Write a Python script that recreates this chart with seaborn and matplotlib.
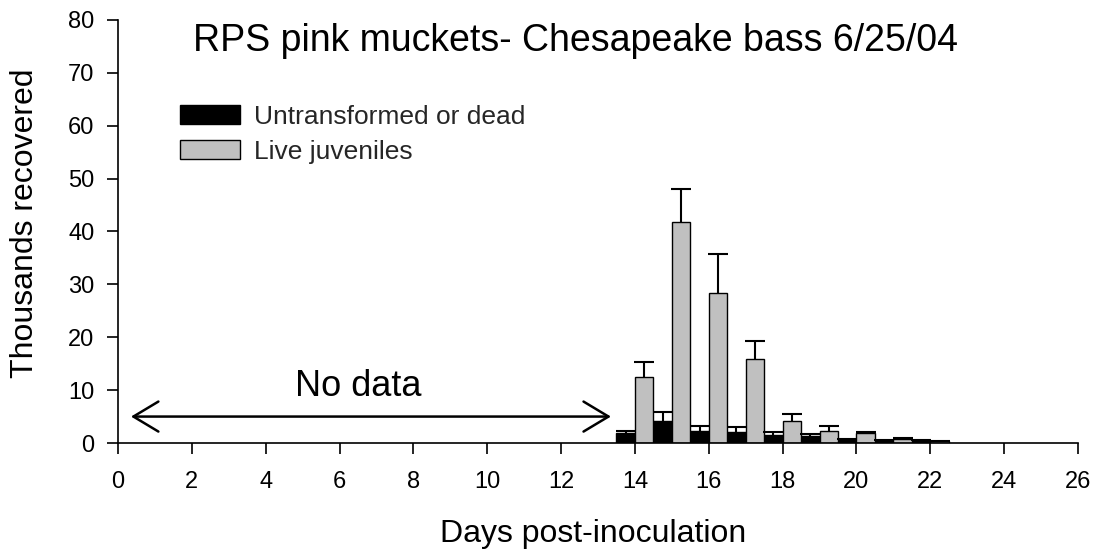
import numpy as np
import pandas as pd
import seaborn as sns
import matplotlib
matplotlib.use("Agg")
import matplotlib.pyplot as plt
from matplotlib.patches import Patch

days = [14, 15, 16, 17, 18, 19, 20, 21, 22]
dead = [1.8, 4.2, 2.3, 2.1, 1.6, 1.4, 0.6, 0.4, 0.4]
dead_err = [0.4, 1.6, 0.9, 0.9, 0.5, 0.3, 0.1, 0.1, 0.1]
live = [12.5, 41.8, 28.3, 15.9, 4.1, 2.3, 1.8, 0.8, 0.3]
live_err = [2.8, 6.2, 7.4, 3.4, 1.3, 1.0, 0.3, 0.1, 0.0]
series = ["Untransformed or dead", "Live juveniles"]
colors = ["#000000", "#C0C0C0"]
xticks = list(range(0, 27, 2))
yticks = list(range(0, 81, 10))

sns.set_theme(style="white")
plt.rcParams['font.family'] = ['Liberation Sans', 'DejaVu Sans']

df = pd.DataFrame({
    "day": days * 2,
    "value": dead + live,
    "series": [series[0]] * len(days) + [series[1]] * len(days),
})

fig = plt.figure(figsize=(10.97, 5.55), dpi=100)
ax = fig.add_axes([0.1076, 0.2018, 0.8751, 0.7622])

sns.barplot(data=df, x="day", y="value", hue="series", hue_order=series,
            palette=dict(zip(series, colors)), native_scale=True, width=1.0,
            dodge=True, errorbar=None, edgecolor="black", linewidth=1.0,
            legend=False, ax=ax)

d = np.array(days, dtype=float)
cap = 0.27
for offs, vals, errs in [(-0.25, dead, dead_err), (0.25, live, live_err)]:
    xs = d + offs
    v = np.array(vals)
    e = np.array(errs)
    tops = v + e
    ax.vlines(xs, v, tops, color="black", lw=1.5, zorder=3)
    ax.hlines(tops, xs - cap, xs + cap, color="black", lw=1.5, zorder=3)

ax.set_xlim(0, 26)
ax.set_ylim(0, 80)
ax.set_xticks(xticks)
ax.set_xticklabels([str(t) for t in xticks], fontsize=17)
ax.set_yticks(yticks)
ax.set_yticklabels([str(t) for t in yticks], fontsize=17)
ax.tick_params(axis="both", direction="out", length=8, width=1.2, color="black",
               bottom=True, left=True, labelcolor="black")
ax.tick_params(axis="x", pad=12)
ax.tick_params(axis="y", pad=9)
for s in ["top", "right"]:
    ax.spines[s].set_visible(False)
for s in ["left", "bottom"]:
    ax.spines[s].set_color("black")
    ax.spines[s].set_linewidth(1.2)

ax.set_xlabel("Days post-inoculation", fontsize=23, color="black")
ax.xaxis.set_label_coords(0.4948, -0.215)
ax.xaxis.label.set_va("center")
ax.set_ylabel("Thousands recovered", fontsize=23, color="black")
ax.yaxis.set_label_coords(-0.0969, 0.52)
ax.yaxis.label.set_va("center")

ax.text(0.4766, 0.95, "RPS pink muckets- Chesapeake bass 6/25/04",
        transform=ax.transAxes, fontsize=27, ha="center", va="center",
        color="black")

ax.annotate("", xy=(0.35, 5), xytext=(13.35, 5),
            arrowprops=dict(arrowstyle="<->,head_length=1.5,head_width=0.9",
                            color="black", lw=1.8, mutation_scale=12,
                            shrinkA=0, shrinkB=0))
ax.text(6.5, 10.6, "No data", fontsize=26, ha="center", va="center", color="black")

handles = [Patch(facecolor=c, edgecolor="black", linewidth=1.0) for c in colors]
ax.legend(handles, series, loc="upper left", bbox_to_anchor=(0.0646, 0.7995),
          frameon=False, fontsize=19, handlelength=2.27, handleheight=0.72,
          labelspacing=0.41, handletextpad=0.55, borderaxespad=0, borderpad=0)

fig.savefig("out.png", dpi=100)
